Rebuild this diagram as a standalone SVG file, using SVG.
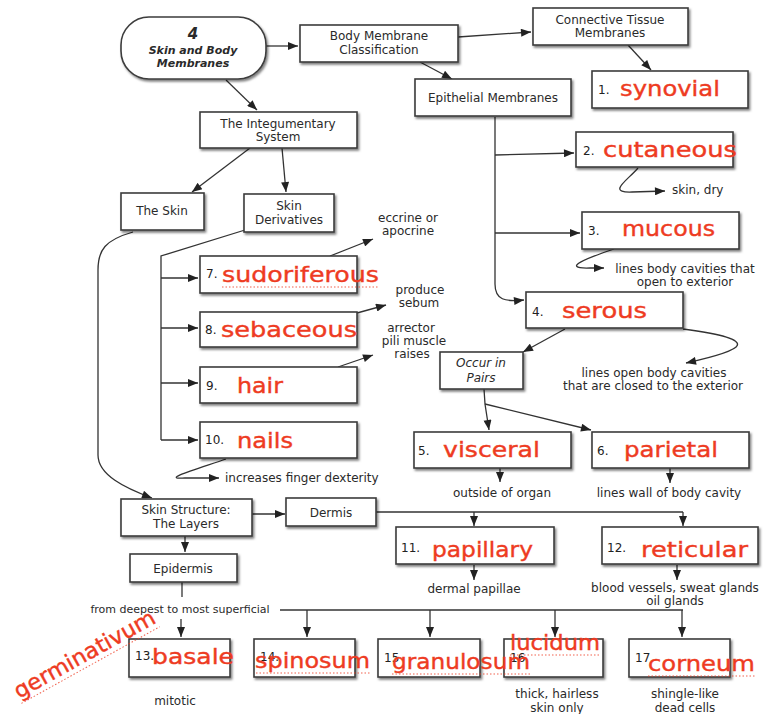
<svg xmlns="http://www.w3.org/2000/svg" width="778" height="714" viewBox="0 0 778 714">
<defs>
<filter id="sh" x="-10%" y="-15%" width="125%" height="150%">
<feDropShadow dx="1.5" dy="2" stdDeviation="1.2" flood-color="#000" flood-opacity="0.5"/>
</filter>
<marker id="ah" viewBox="0 0 10 8" refX="10" refY="4" markerWidth="11" markerHeight="8" markerUnits="userSpaceOnUse" orient="auto">
<path d="M0,0 L10,4 L0,8 z" fill="#222"/>
</marker>
<style>
.box{fill:#fff;stroke:#3c3c3c;stroke-width:1.6;filter:url(#sh)}
.t{font-family:"DejaVu Sans","Liberation Sans",sans-serif;font-size:13px;fill:#2a2a2a;text-anchor:middle}
.s{font-size:12px}
.xs{font-size:11px}
.i{font-style:italic}
.l{text-anchor:start}
.r{font-family:"DejaVu Sans","Liberation Sans",sans-serif;font-size:22px;fill:#ee3b22;stroke:#ee3b22;stroke-width:0.4}
.n{font-family:"DejaVu Sans","Liberation Sans",sans-serif;font-size:12px;fill:#222}
.c{fill:none;stroke:#333;stroke-width:1.3}
.a{marker-end:url(#ah)}
.d{fill:none;stroke:#ee3b22;stroke-width:1;stroke-dasharray:1.5 2;opacity:0.8}
</style>
</defs>
<rect width="778" height="714" fill="#fff"/>

<g id="connectors">
<path class="c a" d="M266,46 L298,46"/>
<path class="c a" d="M458,37 L531,32"/>
<path class="c a" d="M628,45 L651,70"/>
<path class="c a" d="M420,62 L452,79"/>
<path class="c a" d="M495,117 L495,284 C495,300 505,302 524,300"/>
<path class="c a" d="M495,155 L574,153"/>
<path class="c a" d="M495,233 L580,233"/>
<path class="c a" d="M638,168 C628,180 606,193 632,192 L665,191"/>
<path class="c a" d="M614,249 C590,257 558,269 590,268 L604,268"/>
<path class="c a" d="M565,329 L523,352"/>
<path class="c a" d="M683,329 C765,340 745,350 686,363"/>
<path class="c a" d="M484,389 L485,404 L489,430"/>
<path class="c a" d="M485,404 L591,430"/>
<path class="c a" d="M500,468 L500,482"/>
<path class="c a" d="M670,468 L670,483"/>
<path class="c" d="M376,512 L683,512"/>
<path class="c a" d="M474,512 L474,526"/>
<path class="c a" d="M683,512 L683,526"/>
<path class="c a" d="M474,565 L474,580"/>
<path class="c a" d="M677,565 L677,580"/>
<path class="c a" d="M226,80 L257,110"/>
<path class="c a" d="M250,148 L192,192"/>
<path class="c a" d="M282,148 L286,192"/>
<path class="c" d="M245,230 L161,256 L161,440"/>
<path class="c a" d="M161,278 L198,278"/>
<path class="c a" d="M161,328 L198,328"/>
<path class="c a" d="M161,383 L198,383"/>
<path class="c a" d="M161,440 L198,440"/>
<path class="c a" d="M330,256 L373,239"/>
<path class="c a" d="M357,313 L386,305"/>
<path class="c a" d="M338,367 L373,355"/>
<path class="c a" d="M226,459 C200,468 158,480 185,478 L219,478"/>
<path class="c a" d="M133,232 C105,240 98,250 98,270 L98,455 C98,475 125,488 152,498"/>
<path class="c a" d="M252,514 L285,514"/>
<path class="c a" d="M185,536 L185,552"/>
<path class="c" d="M182,582 L182,597"/>
<path class="c a" d="M181,619 L181,637"/>
<path class="c" d="M280,610 L683,610"/>
<path class="c a" d="M307,610 L307,637"/>
<path class="c a" d="M430,610 L430,637"/>
<path class="c a" d="M555,610 L555,637"/>
<path class="c a" d="M682,610 L682,637"/>
</g>

<g id="root">
<rect class="box" x="121" y="17" width="145" height="62" rx="28"/>
<text class="t i" x="193" y="39" style="font-weight:bold;font-size:15px">4</text>
<text class="t i" x="193" y="54" style="font-weight:bold;font-size:11px">Skin and Body</text>
<text class="t i" x="193" y="67" style="font-weight:bold;font-size:11px">Membranes</text>
</g>

<g id="bmc">
<rect class="box" x="300" y="25" width="158" height="37"/>
<text class="t s" x="379" y="40">Body Membrane</text>
<text class="t s" x="379" y="54">Classification</text>
</g>

<g id="ctm">
<rect class="box" x="533" y="8" width="155" height="37"/>
<text class="t s" x="610" y="24">Connective Tissue</text>
<text class="t s" x="610" y="37">Membranes</text>
</g>

<g id="synovial">
<rect class="box" x="592" y="71" width="156" height="37"/>
<text class="n" x="598" y="94">1.</text>
<text class="r" x="620" y="96" textLength="100" lengthAdjust="spacingAndGlyphs">synovial</text>
</g>

<g id="epithelial">
<rect class="box" x="415" y="79" width="156" height="37"/>
<text class="t s" x="493" y="102">Epithelial Membranes</text>
</g>

<g id="cutaneous">
<rect class="box" x="576" y="132" width="157" height="35"/>
<text class="n" x="583" y="155">2.</text>
<text class="r" x="603" y="157" textLength="134" lengthAdjust="spacingAndGlyphs">cutaneous</text>
</g>
<g id="note-skin-dry"><text class="t s l" x="672" y="194">skin, dry</text></g>

<g id="mucous">
<rect class="box" x="582" y="212" width="157" height="37"/>
<text class="n" x="588" y="235">3.</text>
<text class="r" x="622" y="236" textLength="93" lengthAdjust="spacingAndGlyphs">mucous</text>
</g>
<g id="note-mucous">
<text class="t s" x="685" y="273">lines body cavities that</text>
<text class="t s" x="685" y="286">open to exterior</text>
</g>

<g id="serous">
<rect class="box" x="526" y="292" width="157" height="36"/>
<text class="n" x="532" y="316">4.</text>
<text class="r" x="562" y="318" textLength="85" lengthAdjust="spacingAndGlyphs">serous</text>
</g>
<g id="note-serous">
<text class="t s" x="654" y="377">lines open body cavities</text>
<text class="t s" x="653" y="390">that are closed to the exterior</text>
</g>

<g id="occur">
<rect class="box" x="440" y="352" width="83" height="37"/>
<text class="t s i" x="481" y="367">Occur in</text>
<text class="t s i" x="481" y="382">Pairs</text>
</g>

<g id="visceral">
<rect class="box" x="414" y="432" width="157" height="36"/>
<text class="n" x="418" y="455">5.</text>
<text class="r" x="443" y="457" textLength="97" lengthAdjust="spacingAndGlyphs">visceral</text>
</g>
<g id="note-visceral"><text class="t s" x="502" y="497">outside of organ</text></g>

<g id="parietal">
<rect class="box" x="592" y="432" width="157" height="36"/>
<text class="n" x="597" y="455">6.</text>
<text class="r" x="624" y="457" textLength="94" lengthAdjust="spacingAndGlyphs">parietal</text>
</g>
<g id="note-parietal"><text class="t s" x="669" y="497">lines wall of body cavity</text></g>

<g id="papillary">
<rect class="box" x="396" y="527" width="158" height="37"/>
<text class="n" x="401" y="552">11.</text>
<text class="r" x="432" y="557" textLength="101" lengthAdjust="spacingAndGlyphs">papillary</text>
</g>
<g id="note-papillary"><text class="t s" x="474" y="593">dermal papillae</text></g>

<g id="reticular">
<rect class="box" x="602" y="527" width="156" height="37"/>
<text class="n" x="607" y="552">12.</text>
<text class="r" x="641" y="557" textLength="107" lengthAdjust="spacingAndGlyphs">reticular</text>
</g>
<g id="note-reticular">
<text class="t s" x="675" y="592">blood vessels, sweat glands</text>
<text class="t s" x="675" y="605">oil glands</text>
</g>

<g id="integumentary">
<rect class="box" x="200" y="112" width="157" height="36"/>
<text class="t s" x="278" y="128">The Integumentary</text>
<text class="t s" x="278" y="141">System</text>
</g>

<g id="the-skin">
<rect class="box" x="121" y="193" width="83" height="37"/>
<text class="t s" x="162" y="215">The Skin</text>
</g>

<g id="skin-derivatives">
<rect class="box" x="244" y="194" width="90" height="38"/>
<text class="t s" x="289" y="210">Skin</text>
<text class="t s" x="289" y="224">Derivatives</text>
</g>

<g id="sudoriferous">
<rect class="box" x="200" y="256" width="157" height="37"/>
<text class="n" x="206" y="278">7.</text>
<text class="r" x="222" y="282" textLength="157" lengthAdjust="spacingAndGlyphs">sudoriferous</text>
<path class="d" d="M222,287 L379,287"/>
</g>
<g id="note-sudoriferous">
<text class="t s" x="408" y="222">eccrine or</text>
<text class="t s" x="408" y="235">apocrine</text>
</g>

<g id="sebaceous">
<rect class="box" x="200" y="312" width="157" height="35"/>
<text class="n" x="205" y="334">8.</text>
<text class="r" x="221" y="337" textLength="136" lengthAdjust="spacingAndGlyphs">sebaceous</text>
</g>
<g id="note-sebaceous">
<text class="t s" x="420" y="294">produce</text>
<text class="t s" x="419" y="307">sebum</text>
</g>

<g id="hair">
<rect class="box" x="200" y="367" width="157" height="36"/>
<text class="n" x="206" y="390">9.</text>
<text class="r" x="237" y="393" textLength="46" lengthAdjust="spacingAndGlyphs">hair</text>
</g>
<g id="note-hair">
<text class="t s" x="411" y="332">arrector</text>
<text class="t s" x="414" y="345">pili muscle</text>
<text class="t s" x="412" y="358">raises</text>
</g>

<g id="nails">
<rect class="box" x="200" y="422" width="157" height="36"/>
<text class="n" x="205" y="444">10.</text>
<text class="r" x="237" y="448" textLength="56" lengthAdjust="spacingAndGlyphs">nails</text>
</g>
<g id="note-nails"><text class="t s l" x="225" y="482">increases finger dexterity</text></g>

<g id="skin-structure">
<rect class="box" x="121" y="499" width="131" height="37"/>
<text class="t s" x="186" y="514">Skin Structure:</text>
<text class="t s" x="186" y="528">The Layers</text>
</g>

<g id="dermis">
<rect class="box" x="286" y="498" width="90" height="28"/>
<text class="t s" x="331" y="517">Dermis</text>
</g>

<g id="epidermis">
<rect class="box" x="130" y="554" width="107" height="28"/>
<text class="t s" x="183" y="573">Epidermis</text>
</g>
<g id="note-epidermis"><text class="t xs" x="180" y="613">from deepest to most superficial</text></g>

<g id="basale">
<rect class="box" x="129" y="639" width="101" height="38"/>
<text class="n" x="135" y="660">13.</text>
<text class="r" x="152" y="664" textLength="82" lengthAdjust="spacingAndGlyphs">basale</text>
</g>
<g id="note-basale"><text class="t s" x="175" y="705">mitotic</text></g>
<g id="germinativum">
<text class="r" transform="translate(19,699) rotate(-29)" x="0" y="0" textLength="158" lengthAdjust="spacingAndGlyphs">germinativum</text>
<path class="d" transform="translate(19,699) rotate(-29)" d="M0,5 L158,5"/>
</g>

<g id="spinosum">
<rect class="box" x="254" y="639" width="101" height="38"/>
<text class="n" x="260" y="661">14.</text>
<text class="r" x="255" y="668" textLength="115" lengthAdjust="spacingAndGlyphs">spinosum</text>
<path class="d" d="M256,673 L370,673"/>
</g>

<g id="lucidum">
<rect class="box" x="504" y="639" width="99" height="38"/>
<text class="n" x="510" y="662">16</text>
<text class="r" x="510" y="650" textLength="90" lengthAdjust="spacingAndGlyphs">lucidum</text>
<path class="d" d="M510,655 L600,655"/>
</g>
<g id="note-lucidum">
<text class="t s" x="557" y="698">thick, hairless</text>
<text class="t s" x="557" y="712">skin only</text>
</g>

<g id="granulosum">
<rect class="box" x="378" y="639" width="102" height="38"/>
<text class="n" x="384" y="662">15</text>
<text class="r" x="392" y="669" textLength="138" lengthAdjust="spacingAndGlyphs">granulosum</text>
<path class="d" d="M392,674 L530,674"/>
</g>

<g id="corneum">
<rect class="box" x="629" y="639" width="101" height="38"/>
<text class="n" x="635" y="662">17</text>
<text class="r" x="648" y="671" textLength="107" lengthAdjust="spacingAndGlyphs">corneum</text>
<path class="d" d="M648,676 L755,676"/>
</g>
<g id="note-corneum">
<text class="t s" x="685" y="698">shingle-like</text>
<text class="t s" x="685" y="712">dead cells</text>
</g>
</svg>
